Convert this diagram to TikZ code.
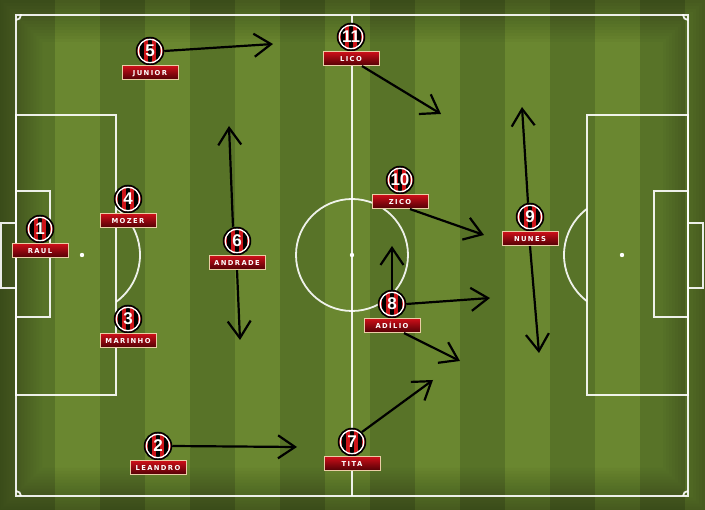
\documentclass[tikz,border=0pt]{standalone}
\usepackage{fontspec}
\usetikzlibrary{positioning,arrows.meta}

\newfontfamily\tagfont[LetterSpace=20]{DejaVu Sans}
\newfontfamily\numfont{Liberation Sans}

\definecolor{grassdark}{RGB}{88,115,40}
\definecolor{grasslight}{RGB}{106,135,48}
\definecolor{shirtred}{RGB}{205,20,25}
\definecolor{tagred}{RGB}{205,15,25}
\definecolor{tagdark}{RGB}{80,0,5}
\definecolor{tagedge}{RGB}{235,205,165}

\tikzset{
  pitchline/.style={draw=white, line width=1.8pt, draw opacity=0.9},
  badge/.style={circle, minimum size=27pt, inner sep=0pt, draw=black,
    line width=1.5pt, fill=shirtred, text=white,
    font=\numfont\bfseries\fontsize{17}{17}\selectfont,
    path picture={
      \foreach \a/\b in {-10/-6,-2/2,6/10}
        \fill[black] ([xshift=\a pt]path picture bounding box.north)
          rectangle ([xshift=\b pt]path picture bounding box.south);
      \draw[white, line width=1.4pt] (path picture bounding box.center) circle (11.8pt);
    }},
  tag/.style={rectangle, minimum width=56pt, minimum height=14pt, inner sep=0pt,
    top color=tagred, bottom color=tagdark, draw=tagedge, line width=0.8pt,
    text=white, text height=5pt, text depth=0pt,
    font=\tagfont\bfseries\fontsize{6.8}{6.8}\selectfont},
  run/.style={-{Straight Barb[length=17pt,width=23pt]}, line width=2.2pt, black}
}

\begin{document}
\begin{tikzpicture}[x=1pt, y=-1pt]
  \useasboundingbox (0,0) rectangle (705,510);

  % Grass with mowing stripes
  \fill[grassdark] (0,0) rectangle (705,510);
  \foreach \x in {55,145,...,685}
    \fill[grasslight] (\x,0) rectangle ++(45,510);
  % Darker edges
  \foreach \d in {0,3,...,42}
    \fill[black, opacity=0.022, even odd rule] (0,0) rectangle (705,510)
      (\d,\d) rectangle (705-\d,510-\d);

  % Pitch markings
  \draw[pitchline] (16,15) rectangle (688,496);
  \draw[pitchline] (352,15) -- (352,496);
  \draw[pitchline] (352,255) circle (56);
  \fill[white] (352,255) circle (2.2);
  % Left end
  \draw[pitchline] (16,115) rectangle (116,395);
  \draw[pitchline] (16,191) rectangle (50,317);
  \draw[pitchline] (1,223) rectangle (16,288);
  \fill[white] (82,255) circle (2.2);
  \begin{scope}
    \clip (116,0) rectangle (200,510);
    \draw[pitchline] (82,255) circle (58);
  \end{scope}
  % Right end
  \draw[pitchline] (587,115) rectangle (688,395);
  \draw[pitchline] (654,191) rectangle (688,317);
  \draw[pitchline] (688,223) rectangle (703,288);
  \fill[white] (622,255) circle (2.2);
  \begin{scope}
    \clip (500,0) rectangle (587,510);
    \draw[pitchline] (622,255) circle (58);
  \end{scope}
  % Corner arcs
  \begin{scope}
    \clip (16,15) rectangle (688,496);
    \foreach \cx/\cy in {16/15,688/15,16/496,688/496}
      \draw[pitchline] (\cx,\cy) circle (5);
  \end{scope}

  % Players
  \node[badge] (p1) at (40,229) {1};
  \node[tag, below=0pt of p1] (p1-tag) {RAUL};
  \node[badge] (p4) at (128,199) {4};
  \node[tag, below=0pt of p4] (p4-tag) {MOZER};
  \node[badge] (p3) at (128,319) {3};
  \node[tag, below=0pt of p3] (p3-tag) {MARINHO};
  \node[badge] (p5) at (150,51) {5};
  \node[tag, below=0pt of p5] (p5-tag) {JUNIOR};
  \node[badge] (p6) at (237,241) {6};
  \node[tag, below=0pt of p6] (p6-tag) {ANDRADE};
  \node[badge] (p2) at (158,446) {2};
  \node[tag, below=0pt of p2] (p2-tag) {LEANDRO};
  \node[badge] (p11) at (351,37) {11};
  \node[tag, below=0pt of p11] (p11-tag) {LICO};
  \node[badge] (p10) at (400,180) {10};
  \node[tag, below=0pt of p10] (p10-tag) {ZICO};
  \node[badge] (p8) at (392,304) {8};
  \node[tag, below=0pt of p8] (p8-tag) {ADÍLIO};
  \node[badge] (p7) at (352,442) {7};
  \node[tag, below=0pt of p7] (p7-tag) {TITA};
  \node[badge] (p9) at (530,217) {9};
  \node[tag, below=0pt of p9] (p9-tag) {NUNES};

  % Arrow targets
  \coordinate (t5) at (273,44);
  \coordinate (t11) at (441,114);
  \coordinate (t6a) at (229,126);
  \coordinate (t6b) at (240,340);
  \coordinate (t10) at (484,235);
  \coordinate (t8a) at (392,246);
  \coordinate (t8b) at (490,298);
  \coordinate (t8c) at (460,361);
  \coordinate (t7) at (433,380);
  \coordinate (t2) at (297,447);
  \coordinate (t9a) at (522,107);
  \coordinate (t9b) at (539,353);

  % Runs
  \draw[run] (p5.east) -- (t5);
  \draw[run] ([xshift=11pt]p11-tag.south) -- (t11);
  \draw[run] ([xshift=-4pt]p6.north) -- (t6a);
  \draw[run] (p6-tag.south) -- (t6b);
  \draw[run] ([xshift=10pt]p10-tag.south) -- (t10);
  \draw[run] (p8.north) -- (t8a);
  \draw[run] (p8.east) -- (t8b);
  \draw[run] ([xshift=12pt]p8-tag.south) -- (t8c);
  \draw[run] (p7.45) -- (t7);
  \draw[run] (p2.east) -- (t2);
  \draw[run] ([xshift=-2pt]p9.north) -- (t9a);
  \draw[run] (p9-tag.south) -- (t9b);
\end{tikzpicture}
\end{document}
